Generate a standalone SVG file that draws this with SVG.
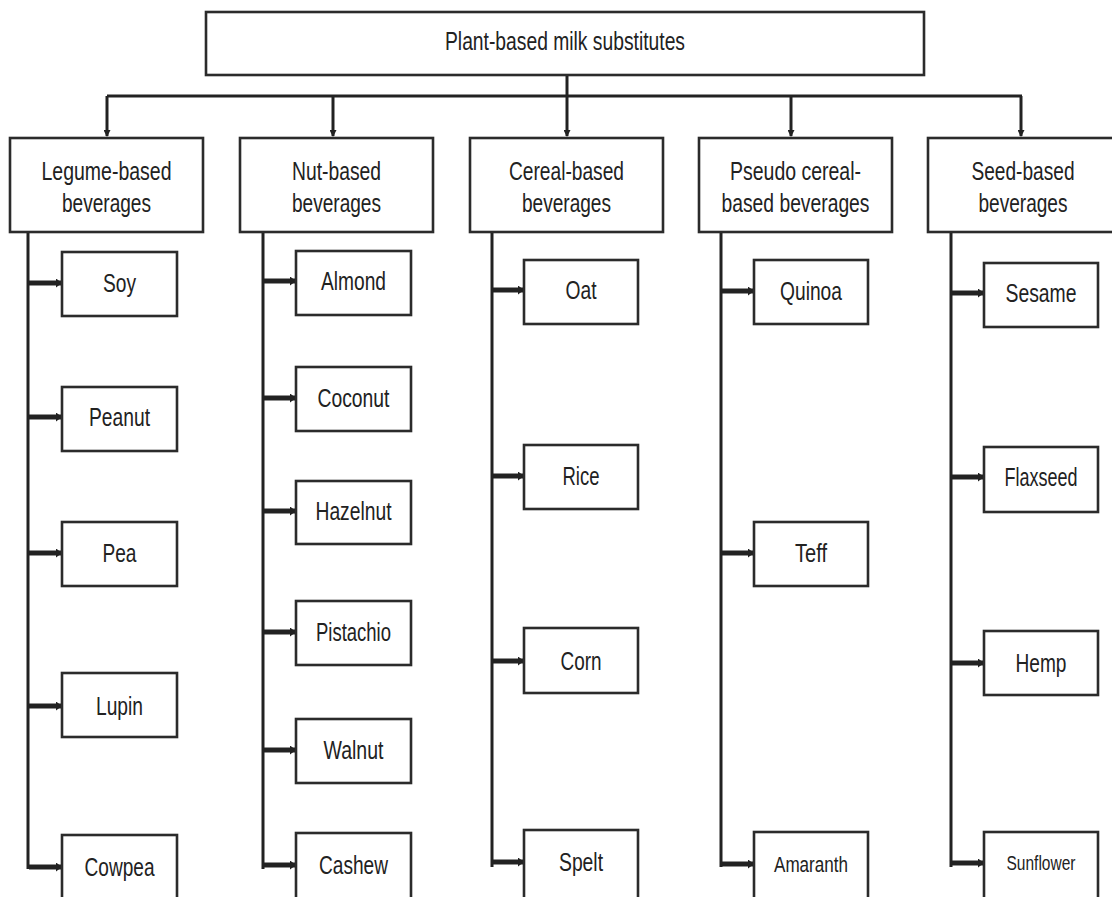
<svg xmlns="http://www.w3.org/2000/svg" width="1112" height="897" viewBox="0 0 1112 897">
<style>
.box{fill:#fff;stroke:#2b2b2b;stroke-width:2.6}
.t{font-family:"Liberation Sans",Arial,sans-serif;font-size:25px;fill:#222;text-anchor:middle}
.trunk{fill:none;stroke:#222;stroke-width:3}
.arr{fill:none;stroke:#222;stroke-width:5;marker-end:url(#ah)}
.dn{fill:none;stroke:#222;stroke-width:3;marker-end:url(#ahd)}
</style>
<defs>
<marker id="ah" markerUnits="userSpaceOnUse" markerWidth="6" markerHeight="9" refX="5" refY="4.5" orient="auto"><path d="M0,0 L6,4.5 L0,9 z" fill="#222"/></marker>
<marker id="ahd" markerUnits="userSpaceOnUse" markerWidth="8" markerHeight="7" refX="6" refY="3.5" orient="auto"><path d="M0,0 L7,3.5 L0,7 z" fill="#222"/></marker>
</defs>
<rect width="1112" height="897" fill="#fff"/>
<g id="connectors">
<path class="trunk" d="M107,96 H1022"/>
<path class="dn" d="M567,76 V136"/>
<path class="dn" d="M107,96 V136"/>
<path class="dn" d="M333,96 V136"/>
<path class="dn" d="M791,96 V136"/>
<path class="dn" d="M1021,96 V136"/>
<path class="trunk" d="M28,232 V869"/>
<path class="trunk" d="M263,232 V869"/>
<path class="trunk" d="M492,232 V867"/>
<path class="trunk" d="M721,232 V867"/>
<path class="trunk" d="M951,232 V867"/>
<path class="arr" d="M29,283 H61"/>
<path class="arr" d="M29,417 H61"/>
<path class="arr" d="M29,553 H61"/>
<path class="arr" d="M29,706 H61"/>
<path class="arr" d="M29,867 H61"/>
<path class="arr" d="M264,281 H295"/>
<path class="arr" d="M264,398 H295"/>
<path class="arr" d="M264,511 H295"/>
<path class="arr" d="M264,632 H295"/>
<path class="arr" d="M264,750 H295"/>
<path class="arr" d="M264,865 H295"/>
<path class="arr" d="M493,290 H523"/>
<path class="arr" d="M493,476 H523"/>
<path class="arr" d="M493,661 H523"/>
<path class="arr" d="M493,862 H523"/>
<path class="arr" d="M722,291 H753"/>
<path class="arr" d="M722,553 H753"/>
<path class="arr" d="M722,864 H753"/>
<path class="arr" d="M952,293 H983"/>
<path class="arr" d="M952,477 H983"/>
<path class="arr" d="M952,663 H983"/>
<path class="arr" d="M952,863 H983"/>
</g>
<g id="root"><rect class="box" x="206" y="12" width="718" height="63"/><text class="t" x="565" y="50" textLength="240" lengthAdjust="spacingAndGlyphs">Plant-based milk substitutes</text></g>
<g id="legume"><rect class="box" x="10" y="138" width="193" height="94"/><text class="t" x="106.5" y="180" textLength="130" lengthAdjust="spacingAndGlyphs">Legume-based</text><text class="t" x="106.5" y="212" textLength="89" lengthAdjust="spacingAndGlyphs">beverages</text></g>
<g id="nut"><rect class="box" x="240" y="138" width="193" height="94"/><text class="t" x="336.5" y="180" textLength="89" lengthAdjust="spacingAndGlyphs">Nut-based</text><text class="t" x="336.5" y="212" textLength="89" lengthAdjust="spacingAndGlyphs">beverages</text></g>
<g id="cereal"><rect class="box" x="470" y="138" width="193" height="94"/><text class="t" x="566.5" y="180" textLength="115" lengthAdjust="spacingAndGlyphs">Cereal-based</text><text class="t" x="566.5" y="212" textLength="89" lengthAdjust="spacingAndGlyphs">beverages</text></g>
<g id="pseudo"><rect class="box" x="699" y="138" width="193" height="94"/><text class="t" x="795.5" y="180" textLength="131" lengthAdjust="spacingAndGlyphs">Pseudo cereal-</text><text class="t" x="795.5" y="212" textLength="148" lengthAdjust="spacingAndGlyphs">based beverages</text></g>
<g id="seed"><rect class="box" x="928" y="138" width="193" height="94"/><text class="t" x="1023" y="180" textLength="103" lengthAdjust="spacingAndGlyphs">Seed-based</text><text class="t" x="1023" y="212" textLength="89" lengthAdjust="spacingAndGlyphs">beverages</text></g>
<g id="soy"><rect class="box" x="62" y="252" width="115" height="64"/><text class="t" x="119.5" y="292" textLength="33" lengthAdjust="spacingAndGlyphs">Soy</text></g>
<g id="peanut"><rect class="box" x="62" y="387" width="115" height="64"/><text class="t" x="119.5" y="426" textLength="61" lengthAdjust="spacingAndGlyphs">Peanut</text></g>
<g id="pea"><rect class="box" x="62" y="522" width="115" height="64"/><text class="t" x="119.5" y="562" textLength="34" lengthAdjust="spacingAndGlyphs">Pea</text></g>
<g id="lupin"><rect class="box" x="62" y="673" width="115" height="64"/><text class="t" x="119.5" y="715" textLength="47" lengthAdjust="spacingAndGlyphs">Lupin</text></g>
<g id="cowpea"><rect class="box" x="62" y="835" width="115" height="70"/><text class="t" x="119.5" y="876" textLength="70" lengthAdjust="spacingAndGlyphs">Cowpea</text></g>
<g id="almond"><rect class="box" x="296" y="251" width="115" height="64"/><text class="t" x="353.5" y="290" textLength="65" lengthAdjust="spacingAndGlyphs">Almond</text></g>
<g id="coconut"><rect class="box" x="296" y="367" width="115" height="64"/><text class="t" x="353.5" y="407" textLength="72" lengthAdjust="spacingAndGlyphs">Coconut</text></g>
<g id="hazelnut"><rect class="box" x="296" y="481" width="115" height="63"/><text class="t" x="353.5" y="520" textLength="76" lengthAdjust="spacingAndGlyphs">Hazelnut</text></g>
<g id="pistachio"><rect class="box" x="296" y="601" width="115" height="64"/><text class="t" x="353.5" y="641" textLength="75" lengthAdjust="spacingAndGlyphs">Pistachio</text></g>
<g id="walnut"><rect class="box" x="296" y="719" width="115" height="64"/><text class="t" x="353.5" y="759" textLength="60" lengthAdjust="spacingAndGlyphs">Walnut</text></g>
<g id="cashew"><rect class="box" x="296" y="833" width="115" height="70"/><text class="t" x="353.5" y="874" textLength="69" lengthAdjust="spacingAndGlyphs">Cashew</text></g>
<g id="oat"><rect class="box" x="524" y="260" width="114" height="64"/><text class="t" x="581" y="299" textLength="31" lengthAdjust="spacingAndGlyphs">Oat</text></g>
<g id="rice"><rect class="box" x="524" y="445" width="114" height="64"/><text class="t" x="581" y="485" textLength="37" lengthAdjust="spacingAndGlyphs">Rice</text></g>
<g id="corn"><rect class="box" x="524" y="628" width="114" height="65"/><text class="t" x="581" y="670" textLength="41" lengthAdjust="spacingAndGlyphs">Corn</text></g>
<g id="spelt"><rect class="box" x="524" y="830" width="114" height="72"/><text class="t" x="581" y="871" textLength="44" lengthAdjust="spacingAndGlyphs">Spelt</text></g>
<g id="quinoa"><rect class="box" x="754" y="260" width="114" height="64"/><text class="t" x="811" y="300" textLength="62" lengthAdjust="spacingAndGlyphs">Quinoa</text></g>
<g id="teff"><rect class="box" x="754" y="522" width="114" height="64"/><text class="t" x="811" y="562" textLength="32" lengthAdjust="spacingAndGlyphs">Teff</text></g>
<g id="amaranth"><rect class="box" x="754" y="832" width="114" height="70"/><text class="t" x="811" y="872" style="font-size:21.5px" textLength="74" lengthAdjust="spacingAndGlyphs">Amaranth</text></g>
<g id="sesame"><rect class="box" x="984" y="263" width="114" height="64"/><text class="t" x="1041" y="302" textLength="71" lengthAdjust="spacingAndGlyphs">Sesame</text></g>
<g id="flaxseed"><rect class="box" x="984" y="447" width="114" height="65"/><text class="t" x="1041" y="486" textLength="73" lengthAdjust="spacingAndGlyphs">Flaxseed</text></g>
<g id="hemp"><rect class="box" x="984" y="631" width="114" height="64"/><text class="t" x="1041" y="672" textLength="51" lengthAdjust="spacingAndGlyphs">Hemp</text></g>
<g id="sunflower"><rect class="box" x="984" y="832" width="114" height="70"/><text class="t" x="1041" y="870" style="font-size:20.5px" textLength="69" lengthAdjust="spacingAndGlyphs">Sunflower</text></g>
</svg>
